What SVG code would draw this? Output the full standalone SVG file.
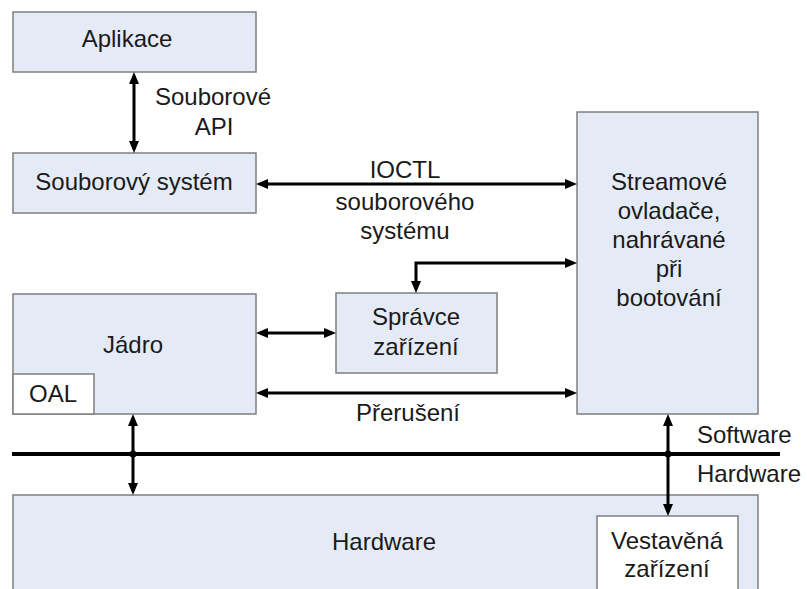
<svg xmlns="http://www.w3.org/2000/svg" width="807" height="589" viewBox="0 0 807 589">
<style>
  .box { fill: #E5EBF6; stroke: #7F7F7F; stroke-width: 1.5; }
  .wbox { fill: #FFFFFF; stroke: #7F7F7F; stroke-width: 1.5; }
  text { font-family: "Liberation Sans", Arial, sans-serif; font-size: 24px; fill: #1A1A1A; }
  .c { text-anchor: middle; }
  .conn { fill: none; stroke: #000; stroke-width: 3; marker-start: url(#ah); marker-end: url(#ah); }
</style>
<defs>
  <marker id="ah" markerUnits="userSpaceOnUse" markerWidth="12" markerHeight="10" refX="8" refY="5" orient="auto-start-reverse" viewBox="0 0 12 10">
    <path d="M0,0 L12,5 L0,10 z" fill="#000"/>
  </marker>
</defs>
<rect width="807" height="589" fill="#FFFFFF"/>

<g id="aplikace">
  <rect class="box" x="13" y="12" width="243" height="60"/>
  <text class="c" x="127" y="47">Aplikace</text>
</g>
<g id="souborovy-system">
  <rect class="box" x="13" y="153" width="243" height="60"/>
  <text class="c" x="134" y="190">Souborový systém</text>
</g>
<g id="streamove-ovladace">
  <rect class="box" x="577" y="112" width="181" height="302"/>
  <text class="c" x="669" y="190">Streamové</text>
  <text class="c" x="669" y="219">ovladače,</text>
  <text class="c" x="669" y="248">nahrávané</text>
  <text class="c" x="669" y="277">při</text>
  <text class="c" x="669" y="306">bootování</text>
</g>
<g id="spravce-zarizeni">
  <rect class="box" x="336" y="293" width="161" height="80"/>
  <text class="c" x="416" y="325">Správce</text>
  <text class="c" x="416" y="355">zařízení</text>
</g>
<g id="jadro">
  <rect class="box" x="13" y="294" width="243" height="120"/>
  <text class="c" x="133" y="353">Jádro</text>
</g>
<g id="oal">
  <rect class="wbox" x="13" y="374" width="81" height="40"/>
  <text class="c" x="53" y="402">OAL</text>
</g>
<g id="hardware">
  <rect class="box" x="13" y="495" width="745" height="110"/>
  <text class="c" x="384" y="550">Hardware</text>
</g>
<g id="vestavena-zarizeni">
  <rect class="wbox" x="597" y="516" width="141" height="90"/>
  <text class="c" x="667" y="549">Vestavěná</text>
  <text class="c" x="667" y="577">zařízení</text>
</g>

<g id="boundary">
  <line x1="12" y1="454" x2="780" y2="454" stroke="#000" stroke-width="4"/>
  <text x="697" y="443">Software</text>
  <text x="697" y="482">Hardware</text>
</g>

<g id="connectors">
  <line class="conn" x1="134" y1="76" x2="134" y2="149"/>
  <line class="conn" x1="260" y1="184" x2="573" y2="184"/>
  <path class="conn" d="M573,263 H416 V289"/>
  <line class="conn" x1="260" y1="333" x2="332" y2="333"/>
  <line class="conn" x1="260" y1="393" x2="573" y2="393"/>
  <line class="conn" x1="133" y1="418" x2="133" y2="491"/>
  <line class="conn" x1="668" y1="418" x2="668" y2="512"/>
  <circle cx="133" cy="454" r="3.5" fill="#000"/>
  <circle cx="668" cy="454" r="3.5" fill="#000"/>
  <g id="connector-labels">
    <text class="c" x="213" y="105">Souborové</text>
    <text class="c" x="214" y="135">API</text>
    <text class="c" x="405" y="178">IOCTL</text>
    <text class="c" x="405" y="210">souborového</text>
    <text class="c" x="405" y="239">systému</text>
    <text class="c" x="408" y="421">Přerušení</text>
  </g>
</g>
</svg>
